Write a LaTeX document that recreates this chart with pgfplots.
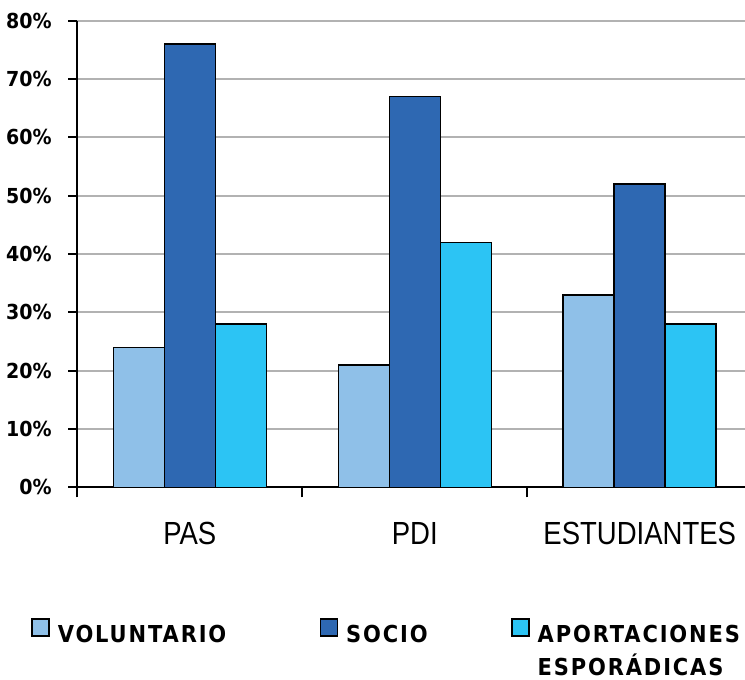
\documentclass[border=0pt]{standalone}
\usepackage{pgfplots}
\pgfplotsset{compat=1.18}
\usepackage{fontspec}
\setmainfont{Liberation Sans}
\newfontfamily\catfont[FakeStretch=0.86]{Liberation Sans}
\newfontfamily\tickfont[FakeStretch=0.92]{DejaVu Sans}
\newfontfamily\legfont[FakeStretch=0.9,LetterSpace=8]{DejaVu Sans}

\definecolor{volcol}{RGB}{143,192,232}
\definecolor{soccol}{RGB}{46,104,178}
\definecolor{aprcol}{RGB}{44,196,244}

\pgfplotsset{
  sqlegend/.style={legend image code/.code={\draw[##1] (0pt,-0.75pt) rectangle (12.75pt,12pt);}},
}

\begin{document}
\begin{tikzpicture}
\useasboundingbox (-58pt,-144.4pt) rectangle (500.8pt,365.5pt);
\begin{axis}[
  at={(0,0)}, anchor=south west,
  scale only axis, width=500.8pt, height=350pt,
  xmin=-0.5, xmax=2.468, ymin=0, ymax=80,
  axis lines=left,
  axis line style={-, line width=1.3pt},
  ybar=0pt, bar width=0.2267,
  ytick={0,10,...,80},
  yticklabels={0\%,10\%,20\%,30\%,40\%,50\%,60\%,70\%,80\%},
  yticklabel style={font=\tickfont\bfseries\fontsize{15.5}{18}\selectfont},
  yticklabel shift=9pt,
  xtick={0,1,2},
  xticklabels={PAS,PDI,ESTUDIANTES},
  xticklabel style={font=\catfont\fontsize{24}{28}\selectfont, anchor=base, yshift=-35.8pt},
  minor xtick={-0.5,0.5,1.5},
  major x tick style={draw=none},
  tick align=outside,
  major tick length=6.75pt, minor tick length=7.5pt,
  tick style={line width=1.3pt, black},
  ymajorgrids,
  grid style={line width=1.3pt, color=black!30},
  legend columns=3,
  legend cell align=left,
  legend style={at={(-0.0693,-0.280)}, anchor=north west, draw=none, fill=none,
    inner sep=0pt, nodes={inner sep=0pt},
    font=\legfont\bfseries\fontsize{17.5}{24.5}\selectfont,
    /tikz/every odd column/.append style={column sep=6pt}},
]
% voluntario
\addplot[draw=black, line width=1.1pt, fill=volcol, sqlegend] coordinates {
  (0,24) (1,21) (2,33)
};
% socio
\addplot[draw=black, line width=1.1pt, fill=soccol, sqlegend] coordinates {
  (0,76) (1,67) (2,52)
};
% aportaciones esporadicas
\addplot[draw=black, line width=1.1pt, fill=aprcol, sqlegend] coordinates {
  (0,28) (1,42) (2,28)
};
\addlegendentry{\makebox[196.5pt][l]{VOLUNTARIO}}
\addlegendentry{\makebox[123.75pt][l]{SOCIO}}
\addlegendentry{\parbox[t]{160pt}{APORTACIONES\\ESPORÁDICAS}}
\end{axis}
\end{tikzpicture}
\end{document}
